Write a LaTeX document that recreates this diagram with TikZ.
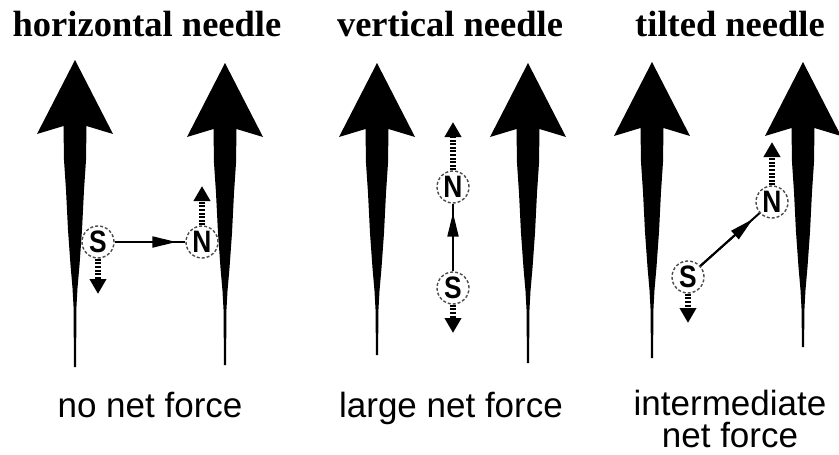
\documentclass[tikz,border=0pt]{standalone}
\usepackage{fontspec}
\setmainfont{Liberation Serif}
\newfontfamily\labsans{Liberation Sans}
\newfontfamily\polefont[FakeStretch=0.85]{Liberation Sans}
\usetikzlibrary{arrows.meta}
\begin{document}
\begin{tikzpicture}[x=1pt,y=-1pt,
  fieldarrow/.pic={
    \fill[black] (0,0) -- (38,74) -- (11.5,66) -- (11,100) -- (9,130) -- (7,170)
      -- (4.5,205) -- (2.5,228) -- (1.4,248) -- (1.1,#1) -- (-1.1,#1) -- (-1.4,248)
      -- (-2.5,228) -- (-4.5,205) -- (-7,170) -- (-9,130) -- (-11,100) -- (-11.5,66)
      -- (-38,74) -- cycle;
  },
  pole/.style={circle, draw=black!70, densely dashed, line width=1.4pt, fill=white,
    minimum size=32pt, inner sep=0pt, font=\polefont\bfseries\fontsize{31}{31}\selectfont},
  needle/.style={line width=2pt},
  needlehead/.style={line width=2pt, -{Triangle[length=24pt,width=11pt]}, shorten >=9pt},
  force/.style={line width=5.5pt, dash pattern=on 2pt off 1.6pt,
    -{Triangle[length=15pt,width=16pt]}},
  toplabel/.style={anchor=base, font=\bfseries\fontsize{36.5}{38}\selectfont},
  botlabel/.style={anchor=base, font=\labsans\fontsize{35}{37}\selectfont, align=center}
]
\useasboundingbox (0,0) rectangle (839,455);

% field lines
\pic at (75,60) {fieldarrow=307};
\pic at (225,63) {fieldarrow=302};
\pic at (377,63) {fieldarrow=292};
\pic at (528,63) {fieldarrow=300};
\pic at (652,62) {fieldarrow=296};
\pic at (803,62) {fieldarrow=285};

% horizontal needle
\node[pole] (S1) at (98,242) {S};
\node[pole] (N1) at (202,242) {N};
\coordinate (fS1) at (98,294);
\coordinate (fN1) at (202,186);
\draw[needle] (S1) -- (N1);
\draw[needlehead] (S1) -- (N1);
\draw[force] (S1) -- (fS1);
\draw[force] (N1) -- (fN1);

% vertical needle
\node[pole] (N2) at (453,187) {N};
\node[pole] (S2) at (453,288) {S};
\coordinate (fN2) at (453,122);
\coordinate (fS2) at (453,333);
\draw[needle] (S2) -- (N2);
\draw[needlehead] (S2) -- (N2);
\draw[force] (N2) -- (fN2);
\draw[force] (S2) -- (fS2);

% tilted needle
\node[pole] (N3) at (772,202) {N};
\node[pole] (S3) at (688,277) {S};
\coordinate (fN3) at (772,142);
\coordinate (fS3) at (688,323);
\draw[needle] (S3) -- (N3);
\draw[needlehead] (S3) -- (N3);
\draw[force] (N3) -- (fN3);
\draw[force] (S3) -- (fS3);

% labels
\node[toplabel] (t1) at (147,36) {horizontal needle};
\node[toplabel] (t2) at (450,36) {vertical needle};
\node[toplabel] (t3) at (730,36) {tilted needle};
\node[botlabel] (b1) at (150,417) {no net force};
\node[botlabel] (b2) at (451,417) {large net force};
\node[botlabel] (b3) at (730,415) {intermediate};
\node[botlabel] (b4) at (730,447) {net force};
\end{tikzpicture}
\end{document}
